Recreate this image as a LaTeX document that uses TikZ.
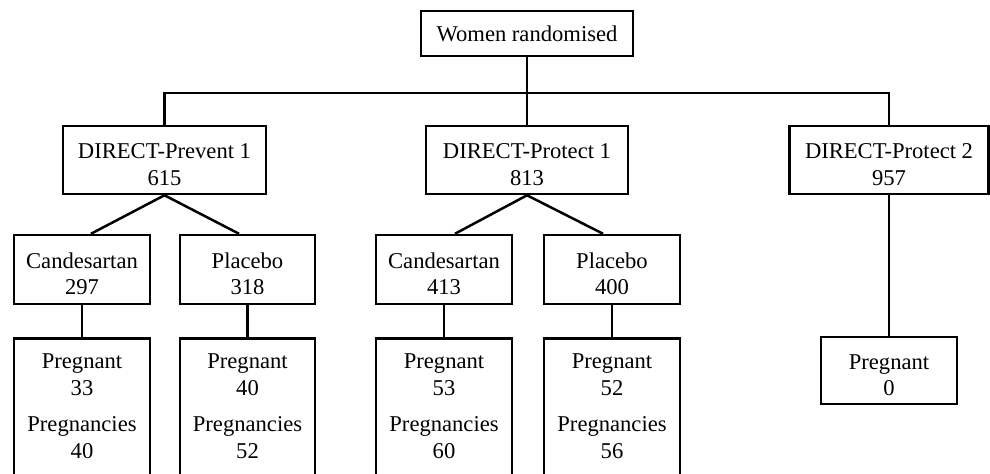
\documentclass[tikz,border=0pt]{standalone}
\usepackage{fontspec}
\setmainfont{Liberation Serif}
\usetikzlibrary{calc}
\newcommand{\topstrut}{\rule{0pt}{12pt}}
\begin{document}
\begin{tikzpicture}[x=0.5pt,y=-0.5pt,
  box/.style={draw,line width=1.25pt,inner sep=0pt,align=center,font=\fontsize{11.3}{13.2}\selectfont},
  txt/.style={inner sep=0pt,align=center,font=\fontsize{11.3}{13.5}\selectfont},
  conn/.style={line width=1.25pt}]
\clip (0,0) rectangle (990,473);
\fill[white] (0,0) rectangle (990,473);
% top
\node[box,minimum width=106pt,minimum height=22.5pt] (top) at (527,33.5) {Women randomised};
% trials
\node[box,minimum width=101.5pt,minimum height=34pt] (dp1) at (164.5,160) {\topstrut DIRECT-Prevent 1\\615};
\node[box,minimum width=101pt,minimum height=34pt] (dpr1) at (527,160) {\topstrut DIRECT-Protect 1\\813};
\node[box,minimum width=99.5pt,minimum height=34pt] (dpr2) at (889,160) {\topstrut DIRECT-Protect 2\\957};
% arms
\node[box,minimum width=68pt,minimum height=34.5pt] (c1) at (82,269.5) {\topstrut Candesartan\\297};
\node[box,minimum width=67.5pt,minimum height=34.5pt] (p1) at (247.5,269.5) {\topstrut Placebo\\318};
\node[box,minimum width=68pt,minimum height=34.5pt] (c2) at (444,269.5) {\topstrut Candesartan\\413};
\node[box,minimum width=68pt,minimum height=34.5pt] (p2) at (612,269.5) {\topstrut Placebo\\400};
% pregnancy boxes (cut off at bottom)
\node[box,minimum width=68pt,minimum height=80pt,anchor=north] (pb1) at (82,337) {};
\node[box,minimum width=67.5pt,minimum height=80pt,anchor=north] (pb2) at (247.5,337) {};
\node[box,minimum width=68pt,minimum height=80pt,anchor=north] (pb3) at (444,337) {};
\node[box,minimum width=68pt,minimum height=80pt,anchor=north] (pb4) at (612,337) {};
\node[txt,anchor=north] (pt1) at ($(pb1.north)+(0,16)$) {Pregnant\\33\\[4.5pt]Pregnancies\\40};
\node[txt,anchor=north] (pt2) at ($(pb2.north)+(0,16)$) {Pregnant\\40\\[4.5pt]Pregnancies\\52};
\node[txt,anchor=north] (pt3) at ($(pb3.north)+(0,16)$) {Pregnant\\53\\[4.5pt]Pregnancies\\60};
\node[txt,anchor=north] (pt4) at ($(pb4.north)+(0,16)$) {Pregnant\\52\\[4.5pt]Pregnancies\\56};
\node[box,minimum width=68pt,minimum height=33.5pt] (pb5) at (889,370.5) {\topstrut Pregnant\\0};
% connectors
\coordinate (bus) at (527,93);
\draw[conn] (top.south) -- (dpr1.north);
\draw[conn] (dp1.north) |- (bus) -| (dpr2.north);
\draw[conn] (dp1.south) -- ($(c1.north)+(9,0)$);
\draw[conn] (dp1.south) -- ($(p1.north)+(-8.5,0)$);
\draw[conn] (dpr1.south) -- ($(c2.north)+(11,0)$);
\draw[conn] (dpr1.south) -- ($(p2.north)+(-9,0)$);
\draw[conn] (c1.south) -- (pb1.north);
\draw[conn] (p1.south) -- (pb2.north);
\draw[conn] (c2.south) -- (pb3.north);
\draw[conn] (p2.south) -- (pb4.north);
\draw[conn] (dpr2.south) -- (pb5.north);
\end{tikzpicture}
\end{document}
